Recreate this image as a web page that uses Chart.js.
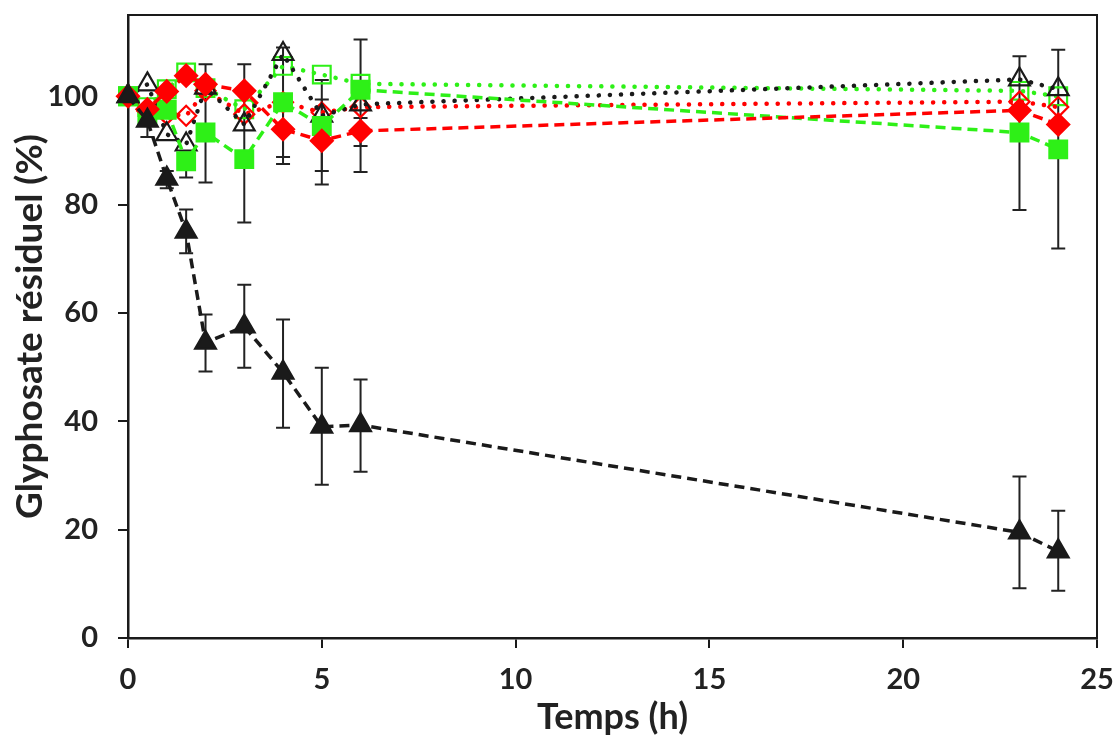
<!DOCTYPE html>
<html>
<head>
<meta charset="utf-8">
<script src="https://cdn.jsdelivr.net/npm/chart.js@4.4.1/dist/chart.umd.min.js"></script>
<style>
  html, body { margin: 0; padding: 0; background: #fff; }
  #wrap { width: 1113px; height: 735px; }
</style>
</head>
<body>
<div id="wrap"><canvas id="chart"></canvas></div>
<script>
// sampling times (h)
const hours = [0, 0.5, 1, 1.5, 2, 3, 4, 5, 6, 23, 24];
const xTicks = [0, 5, 10, 15, 20, 25];
const yTicks = [0, 20, 40, 60, 80, 100];

// residual glyphosate (%) per series
const blackFilled = [100, 95.5, 84.8, 75, 54.5, 57.5, 49, 39, 39.3, 19.5, 16];
const blackOpen   = [100, 102.2, 93, 91.1, 101.6, 94.8, 107.8, 96.4, 98.5, 103.1, 101.3];
const greenFilled = [100, 96.4, 97.5, 88, 93.3, 88.4, 98.9, 94.5, 101.2, 93.3, 90.2];
const greenOpen   = [100, 98, 101.3, 104.4, 101.5, 97.6, 105.6, 104, 102.3, 101, 100];
const redFilled   = [100, 97.6, 100.9, 103.8, 102.2, 101, 93.9, 91.8, 93.6, 97.4, 94.8];
const redOpen     = [100, 97.3, 96.7, 96.4, 101, 96.7, 98.9, 97, 98, 99, 98];

// error bars [low, high], null = none
const blackFilledErr = [null, [92.5, 98], [83, 86.2], [71, 79.1], [49.2, 59.7], [49.9, 65.2], [38.8, 58.8], [28.3, 49.9], [30.7, 47.7], [9.2, 29.8], [8.7, 23.5]];
const blackOpenErr   = [null, null, null, null, null, null, [88.8, 109], null, null, null, null];
const greenFilledErr = [null, null, null, [85, 89.6], [84.1, 105.9], [76.7, 105.9], null, [83.7, 103], [86, 110.5], [79, 107.4], [71.9, 108.6]];
const redFilledErr   = [null, null, null, null, null, null, [87.5, 100], [86.2, 99.4], [90.8, 96], null, null];

const BLACK = '#1a1a1a', GREEN = '#2ef017', RED = '#ff0000';

const pts = (arr) => arr.map((v, i) => ({ x: hours[i], y: v }));

const errorBars = {
    id: 'errorBars',
    beforeDatasetsDraw(chart) {
        const ctx = chart.ctx;
        const xs = chart.scales.x, ys = chart.scales.y;
        ctx.save();
        ctx.strokeStyle = '#222';
        ctx.lineWidth = 2;
        chart.data.datasets.forEach(ds => {
            if (!ds.errors) return;
            ds.errors.forEach((e, i) => {
                if (!e) return;
                const px = xs.getPixelForValue(hours[i]);
                const lo = ys.getPixelForValue(e[0]);
                const hi = ys.getPixelForValue(e[1]);
                ctx.beginPath();
                ctx.moveTo(px, lo); ctx.lineTo(px, hi);
                ctx.moveTo(px - 7, lo); ctx.lineTo(px + 7, lo);
                ctx.moveTo(px - 7, hi); ctx.lineTo(px + 7, hi);
                ctx.stroke();
            });
        });
        ctx.restore();
    },
    afterDraw(chart) {
        // close the frame on top and right
        const a = chart.chartArea, ctx = chart.ctx;
        ctx.save();
        ctx.strokeStyle = BLACK;
        ctx.lineWidth = 2;
        ctx.beginPath();
        ctx.moveTo(a.left, a.top); ctx.lineTo(a.right, a.top); ctx.lineTo(a.right, a.bottom);
        ctx.stroke();
        ctx.restore();
    }
};

const dashed = [10, 6];
const dotted = [0.1, 11];

const series = (data, errors, color, style, radius, filled, dash) => ({
    data: pts(data),
    errors: errors,
    showLine: true,
    borderColor: color,
    borderWidth: dash === dotted ? 4.5 : 3.5,
    borderDash: dash,
    borderCapStyle: dash === dotted ? 'round' : 'butt',
    pointStyle: style,
    pointRadius: radius,
    pointHoverRadius: radius,
    pointBackgroundColor: filled ? color : 'rgba(0,0,0,0)',
    pointBorderColor: color,
    pointBorderWidth: 2.2,
    clip: false
});

const font = { family: 'Lato, "Open Sans", sans-serif', weight: 'bold' };

new Chart(document.getElementById('chart'), {
    type: 'scatter',
    data: {
        datasets: [
            series(blackFilled, blackFilledErr, BLACK, 'triangle', 12, true, dashed),
            series(redFilled, redFilledErr, RED, 'rectRot', 11, true, dashed),
            series(greenFilled, greenFilledErr, GREEN, 'rect', 12.5, true, dashed),
            series(blackOpen, blackOpenErr, BLACK, 'triangle', 12, false, dotted),
            series(redOpen, null, RED, 'rectRot', 10, false, dotted),
            series(greenOpen, null, GREEN, 'rect', 12.5, false, dotted)
        ]
    },
    options: {
        responsive: true,
        maintainAspectRatio: false,
        animation: false,
        layout: { padding: { top: 15, right: 16, bottom: 0, left: 0 } },
        plugins: { legend: { display: false }, tooltip: { enabled: false } },
        scales: {
            x: {
                type: 'linear', min: 0, max: 25,
                afterFit: (s) => { s.height = 97; s.paddingLeft = 0; s.paddingRight = 0; },
                afterBuildTicks: (s) => { s.ticks = xTicks.map(v => ({ value: v })); },
                grid: { drawOnChartArea: false, drawTicks: true, tickLength: 10, color: BLACK, lineWidth: 2 },
                border: { display: true, color: BLACK, width: 2.5 },
                ticks: { padding: 14, color: '#222', font: { ...font, size: 29 } },
                title: { display: true, text: 'Temps (h)', color: '#222', padding: { top: 0, bottom: -4 }, font: { ...font, size: 36 } }
            },
            y: {
                type: 'linear', min: 0, max: 115,
                afterFit: (s) => { s.width = 128; s.paddingTop = 0; s.paddingBottom = 0; },
                afterBuildTicks: (s) => { s.ticks = yTicks.map(v => ({ value: v })); },
                grid: { drawOnChartArea: false, drawTicks: true, tickLength: 10, color: BLACK, lineWidth: 2 },
                border: { display: true, color: BLACK, width: 2.5 },
                ticks: { padding: 20, color: '#222', font: { ...font, size: 29 } },
                title: { display: true, text: 'Glyphosate résiduel (%)', color: '#222', padding: { top: 8, bottom: 0 }, font: { ...font, size: 37 } }
            }
        }
    },
    plugins: [errorBars]
});
</script>
</body>
</html>
